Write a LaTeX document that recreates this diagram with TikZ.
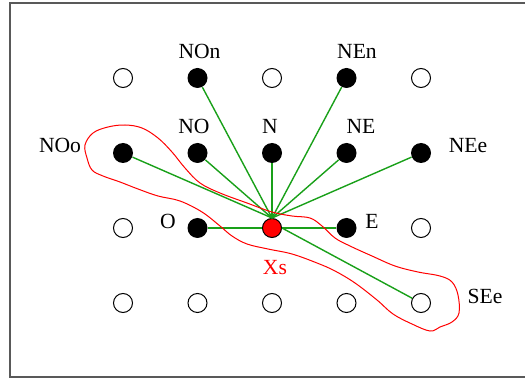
\documentclass[tikz,border=0pt]{standalone}
\usepackage{fontspec}
\setmainfont{Liberation Serif}
\usepackage{tikz}
\usetikzlibrary{positioning}

\definecolor{vertlien}{RGB}{25,160,25}

\begin{document}
\begin{tikzpicture}[x=0.5pt,y=-0.5pt,
    vide/.style={circle,draw,fill=white,line width=0.5pt,minimum size=9.5pt,inner sep=0pt},
    plein/.style={circle,fill=black,minimum size=10pt,inner sep=0pt},
    centre/.style={circle,draw,fill=red,line width=0.5pt,minimum size=9.5pt,inner sep=0pt},
    lien/.style={vertlien,line width=0.7pt},
    etiq/.style={anchor=base,inner sep=0pt,font=\fontsize{10.8}{13}\selectfont}]
\useasboundingbox (0,0) rectangle (525,379);
% Frame
\draw[black!65,line width=0.6pt] (10,3) rectangle (527,377);

% Empty points
\foreach \c/\r in {1/1,3/1,5/1,1/3,5/3,1/4,2/4,3/4,4/4} {
    \node[vide] (g\c\r) at ({48.5+74.5*\c},{3+75*\r}) {};
}
\node[vide] (SEe) at ({48.5+74.5*5},{3+75*4}) {};

% Neighbours
\foreach \nom/\c/\r in {NOn/2/1,NEn/4/1,NOo/1/2,NO/2/2,N/3/2,NE/4/2,NEe/5/2,O/2/3,E/4/3} {
    \node[plein] (\nom) at ({48.5+74.5*\c},{3+75*\r}) {};
}
\node[centre] (Xs) at ({48.5+74.5*3},{3+75*3}) {};

% Links
\foreach \nom in {NOn,NEn,NOo,NO,N,NE,NEe} {
    \draw[lien] (\nom) -- (Xs.north);
}
\draw[lien] (O) -- (Xs);
\draw[lien] (E) -- (Xs);
\draw[lien] (Xs.east) -- (SEe);

% Region
\draw[red,line width=0.5pt] plot[smooth cycle,tension=0.6] coordinates {
    (85,145) (93,133) (108,127) (125,125) (142,128) (158,138) (172,152)
    (185,168) (200,183) (220,193) (247,203) (272,212) (292,216) (310,218)
    (322,226) (335,238) (350,246) (372,256) (395,266) (418,272) (440,276)
    (452,282) (458,295) (459,313) (452,322) (440,327) (430,331)
    (412,324) (393,314) (377,300) (355,283) (335,271) (317,263) (292,254)
    (268,249) (247,244) (232,236) (220,226) (202,212) (180,201) (158,196)
    (138,189) (120,182) (103,176) (92,170) (87,158)};

% Labels
\node[etiq] (lNOn) at (199.5,59) {NOn};
\node[etiq] (lNEn) at (357,59) {NEn};
\node[etiq] (lNO) at (194,134) {NO};
\node[etiq] (lN) at (270,134) {N};
\node[etiq] (lNE) at (361,134) {NE};
\node[etiq] (lNOo) at (60,153) {NOo};
\node[etiq] (lNEe) at (468,153) {NEe};
\node[etiq] (lO) at (168,229) {O};
\node[etiq] (lE) at (372,229) {E};
\node[etiq,text=red] (lXs) at (275,275) {Xs};
\node[etiq] (lSEe) at (485,304) {SEe};
\end{tikzpicture}
\end{document}
